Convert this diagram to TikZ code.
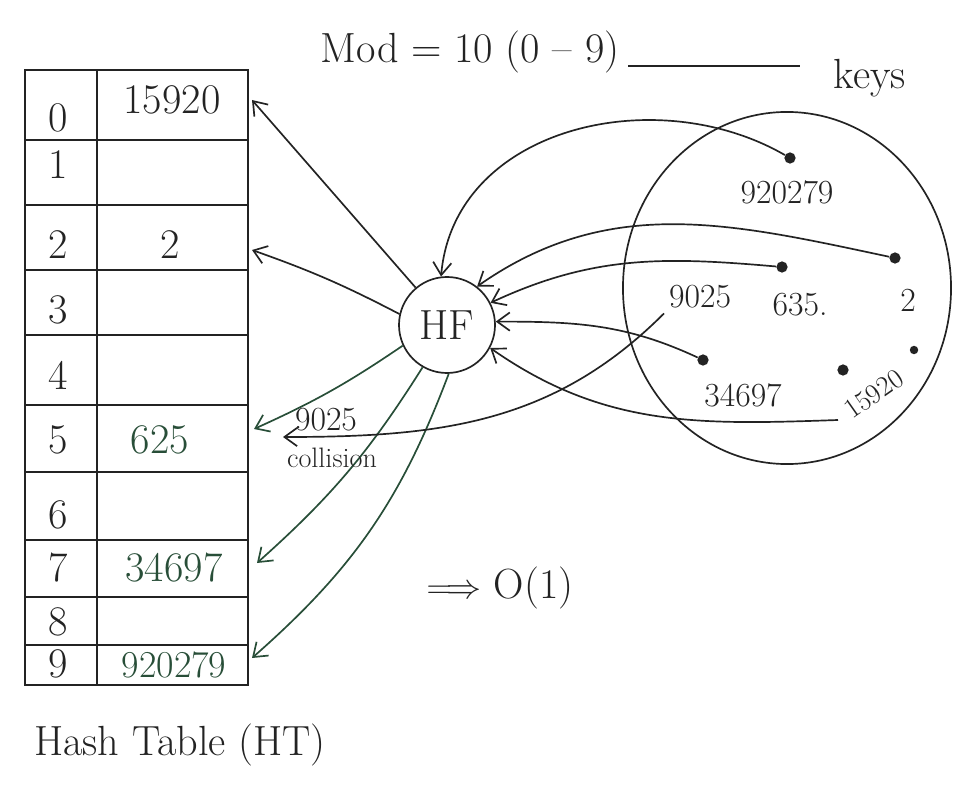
\documentclass[tikz,border=0pt]{standalone}
\usepackage{fontspec}
\usetikzlibrary{arrows.meta,positioning,shapes.geometric}
\definecolor{inkcol}{RGB}{35,35,35}
\definecolor{greenink}{RGB}{40,78,56}
\newcommand{\bigink}{\fontsize{30}{34}\selectfont}
\newcommand{\midink}{\fontsize{24}{28}\selectfont}
\newcommand{\smallink}{\fontsize{20}{24}\selectfont}

\begin{document}
\begin{tikzpicture}[x=0.025cm, y=-0.025cm,
    ink/.style={draw=inkcol, line width=1.2pt},
    arr/.style={ink, -{Straight Barb[length=9pt, width=13pt]}},
    idx/.style={font=\bigink, text=inkcol},
    val/.style={font=\bigink, text=inkcol},
    keydot/.style={circle, fill=inkcol, inner sep=0pt, minimum size=8pt},
    keylbl/.style={font=\midink, text=inkcol},
]
\useasboundingbox (0,0) rectangle (953,787);

\draw[ink] (25,70) rectangle (248,685);
\draw[ink] (97,70) -- (97,685);
\foreach \y in {140,205,270,335,405,472,540,597,645}
    \draw[ink] (25,\y) -- (248,\y);
\foreach \i/\y in {0/118,1/165,2/245,3/310,4/375,5/440,6/515,7/568,8/622,9/664}
    \node[idx] (i\i) at (58,\y) {\i};

\node[val] (v0) at (172,100) {15920};
\node[val] (v2) at (170,245) {2};
\node[val, text=greenink] (v5) at (160,440) {625};
\node[val, text=greenink] (v7) at (174,568) {34697};
\node[val, text=greenink, font=\fontsize{27}{30}\selectfont] (v9) at (174,665) {920279};

\coordinate (s0) at (252,100);
\coordinate (s2) at (252,250);
\coordinate (s5) at (254,429);
\coordinate (s7) at (257,563);
\coordinate (s9) at (252,658);

\node[font=\bigink, text=inkcol] (ht) at (180,745) {Hash Table (HT)};
\node[font=\bigink, text=inkcol] (mod) at (470,52) {Mod = 10 (0 -- 9)};
\node[font=\bigink, text=inkcol] (keystxt) at (870,78) {keys};
\coordinate (modend) at (800,66);
\draw[ink] (mod.east |- modend) ++(4,0) -- (modend);

\node[draw=inkcol, line width=1.2pt, circle, minimum size=2.4cm, font=\bigink, text=inkcol] (hf) at (447,325) {HF};
\node[draw=inkcol, line width=1.2pt, ellipse, minimum width=8.2cm, minimum height=8.8cm] (keys) at (787,288) {};

\node[keydot] (k920279) at (790,158) {};
\node[keylbl] (l920279) at (787,192) {920279};
\node[keydot] (k2) at (895,258) {};
\node[keylbl] (l2) at (908,300) {2};
\node[keydot] (k635) at (782,267) {};
\node[keylbl] (l635) at (800,305) {635.};
\node[keylbl] (l9025) at (700,297) {9025};
\node[keydot] (k34697) at (703,360) {};
\node[keylbl] (l34697) at (743,395) {34697};
\node[keydot] (k15920) at (843,370) {};
\node[keydot, minimum size=6pt] (k15920b) at (914,350) {};
\node[keylbl, font=\smallink, rotate=35, inner sep=1pt] (l15920) at (874,394) {15920};
\coordinate (t15920) at (838,420);
\coordinate (c9025) at (283,437);

\draw[arr] (hf.130) -- (s0);
\draw[arr] (hf.167) to[bend right=4] (s2);
\draw[arr, draw=greenink] (hf.205) to[bend left=5] (s5);
\draw[arr, draw=greenink] (hf.240) to[bend left=8] (s7);
\draw[arr, draw=greenink] (hf.272) to[bend left=14] (s9);

\draw[arr] (k920279) to[out=150, in=85, looseness=1.05] (hf.97);
\draw[arr] (k2) to[out=168, in=35] (hf.52);
\draw[arr] (k635) to[out=175, in=25] (hf.27);
\draw[arr] (k34697) to[out=155, in=0] (hf.4);
\draw[arr] (t15920) to[out=182, in=-35] (hf.-28);
\draw[arr] (l9025.south west) to[out=225, in=0] (c9025);

\node[font=\midink, text=inkcol] (n9025) at (326,420) {9025};
\node[font=\smallink, text=inkcol] (coll) at (332,458) {collision};

\node[font=\bigink, text=inkcol] (order) at (500,588) {$\Longrightarrow$ O(1)};
\end{tikzpicture}
\end{document}
